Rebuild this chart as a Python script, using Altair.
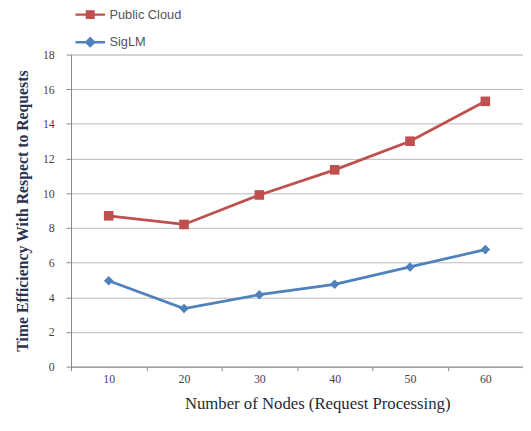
import altair as alt
import pandas as pd

nodes = [10, 20, 30, 40, 50, 60]
public_cloud = [8.7, 8.2, 9.9, 11.35, 13.0, 15.3]
siglm = [4.95, 3.35, 4.15, 4.75, 5.75, 6.75]
series_names = ["Public Cloud", "SigLM"]
series_colors = ["#C0504D", "#4F81BD"]

rows = []
for n, v in zip(nodes, public_cloud):
    rows.append({"nodes": n, "value": v, "series": "Public Cloud"})
for n, v in zip(nodes, siglm):
    rows.append({"nodes": n, "value": v, "series": "SigLM"})
df = pd.DataFrame(rows)

sq_path = "M-1,0H1M-0.22,-0.22H0.22V0.22H-0.22Z"
dm_path = "M-1,0H1M0,-0.26L0.26,0L0,0.26L-0.26,0Z"

color_scale = alt.Scale(domain=series_names, range=series_colors)
y_scale = alt.Scale(domain=[0, 18], nice=False)
x_enc = alt.X(
    "nodes:O",
    scale=alt.Scale(type="band", paddingInner=0, paddingOuter=0),
    axis=alt.Axis(
        title="Number of Nodes (Request Processing)",
        labelAngle=0,
        tickBand="extent",
        grid=False,
        domainColor="#888888",
        tickColor="#888888",
        tickSize=4,
        labelFont="Liberation Serif",
        labelFontSize=12,
        labelColor="#444444",
        labelPadding=3,
        titleFont="Liberation Serif",
        titleFontSize=17,
        titleFontWeight="normal",
        titleColor="#1F2A3A",
        titlePadding=12,
        titleX=250,
        titleAlign="center",
    ),
)
y_axis = alt.Axis(
    title="Time Efficiency With Respect to Requests",
    values=list(range(0, 19, 2)),
    grid=True,
    gridColor="#BBBBBB",
    gridWidth=1,
    domainColor="#888888",
    tickColor="#888888",
    tickSize=5,
    labelFont="Liberation Serif",
    labelFontSize=12,
    labelColor="#444444",
    labelPadding=12,
    titleFont="Liberation Serif",
    titleFontSize=16,
    titleFontWeight="bold",
    titleColor="#2A3450",
    titlePadding=12,
)
y_enc = alt.Y("value:Q", scale=y_scale, axis=y_axis)

legend = alt.Legend(
    title=None,
    orient="none",
    legendX=3,
    legendY=-57,
    direction="vertical",
    symbolSize=900,
    symbolStrokeWidth=2.5,
    symbolOpacity=1,
    symbolFillColor="transparent",
    rowPadding=3,
    labelFont="Liberation Sans",
    labelFontSize=13,
    labelColor="#555555",
    labelOffset=3,
)

base = alt.Chart(df)
lines = base.mark_line(strokeWidth=2.8).encode(
    x=x_enc,
    y=y_enc,
    color=alt.Color("series:N", scale=color_scale),
    detail="series:N",
)
pts_pc = base.transform_filter(alt.datum.series == "Public Cloud").mark_point(
    filled=True, opacity=1, size=95, shape="square"
).encode(
    x=x_enc,
    y=y_enc,
    color=alt.Color("series:N", scale=color_scale),
)
pts_sl = base.transform_filter(alt.datum.series == "SigLM").mark_point(
    filled=True, opacity=1, size=95, shape="diamond"
).encode(
    x=x_enc,
    y=y_enc,
    color=alt.Color("series:N", scale=color_scale),
)
legend_layer = base.transform_calculate(off="datum.value + 100").mark_point(
    clip=True, strokeWidth=2.5, opacity=1, filled=False
).encode(
    x=x_enc,
    y=alt.Y("off:Q", scale=y_scale, axis=y_axis),
    color=alt.Color("series:N", scale=color_scale, legend=legend),
    shape=alt.Shape("series:N", scale=alt.Scale(domain=series_names, range=[sq_path, dm_path]), legend=legend),
)

chart = (
    alt.layer(lines, pts_pc, pts_sl, legend_layer)
    .properties(
        width=459,
        height=317,
        autosize=alt.AutoSizeParams(type="none"),
        padding={"left": 64, "top": 44, "right": 0, "bottom": 55},
    )
    .configure_view(stroke=None)
    .configure(background="white")
)

chart.save("out.html", embed_options={"renderer": "svg", "actions": False})
